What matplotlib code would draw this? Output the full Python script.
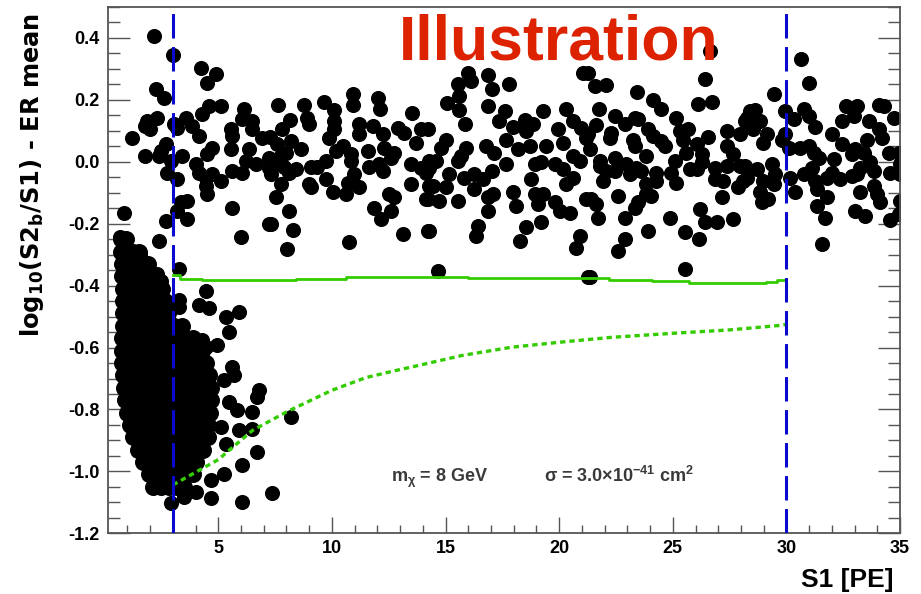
import matplotlib
matplotlib.use("Agg")
import matplotlib.pyplot as plt
from matplotlib.ticker import MultipleLocator, FormatStrFormatter

plt.rcParams.update({
    "font.family": ["Liberation Sans", "DejaVu Sans"],
    "font.weight": "bold",
    "axes.unicode_minus": False,
    "mathtext.fontset": "custom",
    "mathtext.rm": "Liberation Sans:bold",
    "mathtext.it": "Liberation Sans:bold",
    "mathtext.bf": "Liberation Sans:bold",
})

# band events (S1, log10(S2b/S1) - ER mean)
UPPER_X = [
    2.16, 3.01, 4.22, 4.88, 4.51, 2.27, 2.60, 4.59, 5.10, 4.29, 3.56, 6.13, 6.06, 6.50, 1.87, 2.31,
    1.79, 2.01, 3.04, 3.19, 3.85, 1.21, 4.15, 5.54, 5.62, 6.50, 6.94, 2.68, 2.46, 1.79, 2.38, 3.41,
    2.90, 4.73, 4.51, 5.54, 6.35, 4.00, 4.15, 4.44, 4.73, 5.10, 2.75, 3.19, 4.44, 4.51, 5.62, 6.06,
    6.64, 7.23, 6.20, 3.63, 3.34, 3.19, 3.63, 2.68, 0.84, 5.62, 7.23, 5.98, 2.38, 3.26,
    7.64, 8.78, 9.66, 10.94, 10.94, 12.05, 12.11, 10.10, 13.52, 8.14, 8.92, 9.00, 10.10, 10.10, 9.88, 7.82,
    7.26, 7.60, 8.19, 8.63, 11.20, 11.79, 12.23, 12.89, 13.18, 13.92, 13.70, 11.20, 10.47, 10.17, 10.83, 10.83,
    11.57, 12.30, 12.74, 12.60, 7.23, 7.67, 7.97, 7.38, 7.89, 8.41, 7.31, 8.11, 9.07, 9.36, 9.73, 11.64,
    12.08, 12.23, 13.48, 13.92, 14.29, 14.14, 7.75, 9.00, 9.07, 9.73, 10.03, 10.69, 10.61, 10.98, 11.20, 13.48,
    14.29, 7.53, 12.52, 12.74, 14.14, 11.86, 12.16, 12.60, 8.11, 7.31, 8.29, 8.04, 10.76, 13.11, 14.21,
    15.98, 16.86, 15.54, 16.12, 17.81, 17.05, 15.58, 15.05, 16.86, 15.61, 17.62, 15.87, 17.34, 17.99, 18.48, 19.28,
    20.31, 21.05, 14.21, 15.02, 14.80, 15.90, 15.68, 15.54, 14.58, 14.29, 16.79, 17.15, 17.67, 18.18, 18.55, 18.84,
    18.70, 19.43, 19.95, 20.17, 20.61, 20.97, 21.19, 20.90, 20.61, 18.92, 19.21, 19.80, 20.17, 17.67, 17.05, 15.17,
    15.83, 16.27, 16.64, 16.27, 15.02, 14.43, 14.21, 14.73, 15.54, 16.86, 17.08, 16.86, 17.96, 18.11, 18.77, 18.92,
    19.28, 19.06, 19.80, 20.02, 20.46, 20.31, 20.61, 21.19, 14.29, 16.34, 16.42, 18.26, 18.55, 19.21, 20.90, 20.75,
    14.65, 21.27,
    21.27, 21.56, 22.05, 23.43, 24.13, 24.46, 26.41, 26.12, 26.71, 26.63, 21.75, 22.44, 22.89, 23.33, 23.47, 21.64,
    22.30, 22.22, 21.27, 23.91, 24.13, 24.50, 24.65, 23.25, 23.33, 23.84, 25.16, 25.31, 25.68, 25.46, 25.60, 26.05,
    26.27, 26.56, 26.27, 25.09, 24.94, 25.16, 25.75, 26.05, 27.37, 27.96, 28.18, 28.40, 27.37, 27.66, 27.37, 26.85,
    26.85, 27.22, 27.96, 27.88, 28.25, 21.34, 21.78, 21.78, 22.08, 21.93, 22.44, 22.44, 22.96, 23.11, 23.62, 23.84,
    23.40, 24.28, 24.28, 23.84, 23.47, 23.33, 24.06, 22.59, 21.42, 21.64, 21.71, 22.89, 24.87, 26.19, 26.41, 26.93,
    27.66, 27.15, 23.91, 25.53, 26.16, 22.89, 22.59, 25.53, 21.34,
    30.65, 30.97, 29.47, 29.94, 30.75, 30.97, 30.31, 28.62, 28.25, 28.84, 28.54, 29.13, 28.99, 29.94, 29.79, 30.09,
    31.26, 30.60, 30.97, 31.19, 31.41, 32.62, 33.10, 32.95, 32.44, 32.00, 32.44, 33.61, 34.06, 34.28, 34.72, 34.06,
    34.20, 33.54, 33.03, 32.88, 33.39, 33.69, 33.25, 33.84, 33.10, 32.07, 32.00, 32.37, 31.78, 32.88, 34.50, 34.94,
    35.01, 34.57, 35.01, 31.12, 30.75, 31.26, 31.34, 28.18, 28.69, 28.10, 29.35, 29.50, 28.99, 29.43, 28.84, 28.91,
    29.21, 30.16, 30.38, 31.78, 31.34, 31.70, 33.03, 33.47, 33.25, 33.84, 33.98, 34.13, 35.01, 34.94, 34.57, 31.56,
]
UPPER_Y = [
    0.405, 0.346, 0.303, 0.282, 0.255, 0.234, 0.207, 0.180, 0.180, 0.153, 0.142, 0.169, 0.137, 0.132, 0.132, 0.142,
    0.115, 0.105, 0.121, 0.110, 0.115, 0.078, 0.083, 0.105, 0.083, 0.105, 0.078, 0.056, 0.035, 0.019, 0.019, 0.019,
    0.003, 0.046, 0.024, 0.040, 0.040, -0.008, -0.035, -0.051, -0.040, -0.062, -0.035, -0.056, -0.078, -0.105, -0.030, -0.035,
    -0.008, -0.019, 0.003, -0.126, -0.131, -0.158, -0.185, -0.191, -0.164, -0.148, -0.201, -0.244, -0.255, -0.346,
    0.183, 0.183, 0.193, 0.220, 0.185, 0.207, 0.172, 0.166, 0.157, 0.134, 0.142, 0.121, 0.132, 0.105, 0.078, 0.105,
    0.080, 0.056, 0.067, 0.040, 0.121, 0.115, 0.089, 0.110, 0.094, 0.105, 0.062, 0.089, 0.051, 0.035, 0.024, 0.003,
    0.035, 0.046, 0.030, 0.013, 0.013, 0.013, 0.029, -0.013, -0.018, -0.024, -0.040, -0.035, -0.018, -0.018, 0.003, -0.018,
    -0.008, -0.030, -0.008, -0.019, 0.003, -0.035, -0.072, -0.072, -0.083, -0.056, -0.099, -0.067, -0.105, -0.040, -0.083, -0.072,
    -0.078, -0.115, -0.105, -0.115, -0.121, -0.148, -0.185, -0.158, -0.160, -0.201, -0.221, -0.282, -0.258, -0.233, -0.223,
    0.287, 0.280, 0.250, 0.260, 0.252, 0.234, 0.212, 0.191, 0.180, 0.166, 0.164, 0.123, 0.132, 0.112, 0.134, 0.164,
    0.169, 0.287, 0.105, 0.072, 0.046, 0.046, 0.019, 0.003, 0.003, -0.019, 0.051, 0.029, 0.072, 0.040, 0.099, 0.121,
    0.051, 0.051, 0.105, 0.062, 0.132, 0.110, 0.078, 0.003, 0.019, -0.008, -0.002, -0.008, -0.024, -0.008, -0.030, -0.040,
    -0.051, -0.040, -0.056, -0.089, -0.083, -0.078, -0.121, -0.126, -0.126, -0.115, -0.105, -0.158, -0.099, -0.142, -0.056, -0.105,
    -0.105, -0.137, -0.131, -0.158, -0.164, -0.072, -0.051, -0.121, -0.223, -0.239, -0.207, -0.255, -0.212, -0.196, -0.239, -0.277,
    -0.352, -0.373,
    0.287, 0.244, 0.247, 0.226, 0.199, 0.169, 0.269, 0.187, 0.193, 0.359, 0.169, 0.148, 0.121, 0.142, 0.137, 0.119,
    0.094, 0.078, 0.089, 0.105, 0.083, 0.067, 0.051, 0.072, 0.051, 0.019, 0.142, 0.099, 0.105, 0.072, 0.029, 0.056,
    0.024, 0.080, -0.002, 0.003, -0.035, -0.067, -0.024, -0.024, 0.099, 0.089, 0.132, 0.164, 0.051, 0.024, -0.013, -0.019,
    -0.056, -0.062, -0.013, -0.083, -0.051, 0.040, 0.003, -0.013, -0.030, -0.062, 0.013, -0.030, -0.008, -0.040, -0.030, -0.072,
    -0.019, -0.035, -0.062, -0.105, -0.131, -0.148, -0.110, -0.110, -0.121, -0.137, -0.180, -0.180, -0.182, -0.153, -0.196, -0.196,
    -0.185, -0.115, -0.225, -0.228, -0.250, -0.250, -0.287, -0.346, -0.373,
    0.333, 0.255, 0.220, 0.164, 0.169, 0.148, 0.137, 0.166, 0.142, 0.132, 0.105, 0.089, 0.062, 0.089, 0.072, 0.046,
    0.112, 0.046, 0.051, 0.029, 0.013, 0.180, 0.180, 0.148, 0.132, 0.089, 0.056, 0.132, 0.185, 0.180, 0.142, 0.105,
    0.078, 0.072, 0.040, 0.024, 0.029, -0.002, -0.019, -0.030, -0.040, 0.008, -0.035, -0.056, -0.051, -0.046, 0.029, 0.029,
    -0.008, -0.035, -0.040, -0.019, -0.040, -0.062, -0.089, -0.013, -0.024, -0.062, -0.008, -0.040, -0.062, -0.072, -0.099, -0.131,
    -0.121, -0.051, -0.099, -0.115, -0.142, -0.180, -0.158, -0.175, -0.099, -0.078, -0.105, -0.131, -0.126, -0.169, -0.188, -0.266,
]

# scattered events around the low-S1 cluster
OUTER_X = [0.69, 1.57, 2.31, 2.46, 3.26, 4.44, 4.15, 4.59, 3.26, 5.32, 5.91, 5.47, 4.29, 4.95,
           4.44, 5.62, 5.69, 5.25, 6.79, 6.72, 5.47, 5.84, 6.50, 8.19, 5.10, 5.91, 6.50, 6.72,
           5.32, 6.06, 5.25, 4.66, 4.66, 6.06, 7.38, 4.00, 3.48, 2.90]
OUTER_Y = [-0.244, -0.298, -0.362, -0.384, -0.448, -0.416, -0.464, -0.472, -0.470, -0.502, -0.486,
           -0.550, -0.577, -0.593, -0.599, -0.663, -0.690, -0.706, -0.738, -0.760, -0.776, -0.803,
           -0.808, -0.824, -0.856, -0.867, -0.862, -0.937, -0.910, -0.980, -1.007, -1.028, -1.087,
           -1.098, -1.071, -1.066, -1.082, -1.103]

# dense cluster, one row of events per level
BLOB_ROW_Y = [-0.25, -0.29, -0.33, -0.37, -0.41, -0.45, -0.49, -0.53, -0.57, -0.61, -0.65,
              -0.69, -0.73, -0.77, -0.81, -0.85, -0.89, -0.93, -0.97, -1.01, -1.05]
BLOB_ROW_X = [
    [0.70, 0.95],
    [0.72, 0.90, 1.25, 1.50],
    [0.75, 1.10, 1.45, 1.80, 1.92],
    [0.78, 0.97, 1.32, 1.67, 2.02, 2.22],
    [0.80, 1.15, 1.50, 1.85, 2.20, 2.52],
    [0.80, 0.97, 1.32, 1.67, 2.02, 2.37, 2.65],
    [0.82, 1.20, 1.55, 1.90, 2.25, 2.60, 2.80],
    [0.80, 0.97, 1.32, 1.67, 2.02, 2.37, 2.72, 3.07, 3.40],
    [0.78, 1.10, 1.45, 1.80, 2.15, 2.50, 2.85, 3.20, 3.55, 3.90],
    [0.75, 0.97, 1.32, 1.67, 2.02, 2.37, 2.72, 3.07, 3.42, 3.77, 4.10, 4.30],
    [0.75, 1.10, 1.45, 1.80, 2.15, 2.50, 2.85, 3.20, 3.55, 3.90, 4.20, 4.45],
    [0.80, 0.97, 1.32, 1.67, 2.02, 2.37, 2.72, 3.07, 3.42, 3.77, 4.12, 4.47, 4.60],
    [0.85, 1.20, 1.55, 1.90, 2.25, 2.60, 2.95, 3.30, 3.65, 4.00, 4.35, 4.70],
    [0.90, 1.07, 1.42, 1.77, 2.12, 2.47, 2.82, 3.17, 3.52, 3.87, 4.22, 4.57, 4.70],
    [1.00, 1.35, 1.70, 2.05, 2.40, 2.75, 3.10, 3.45, 3.80, 4.15, 4.45, 4.65],
    [1.10, 1.27, 1.62, 1.97, 2.32, 2.67, 3.02, 3.37, 3.72, 4.07, 4.42, 4.55],
    [1.25, 1.60, 1.95, 2.30, 2.65, 3.00, 3.35, 3.70, 4.05, 4.40, 4.55],
    [1.45, 1.62, 1.97, 2.32, 2.67, 3.02, 3.37, 3.72, 4.07, 4.35],
    [1.70, 2.05, 2.40, 2.75, 3.10, 3.45, 3.80, 4.00],
    [1.95, 2.12, 2.47, 2.82, 3.17, 3.52, 3.87],
    [2.15, 2.50, 2.85, 3.20, 3.50],
]

# analysis window in S1
S1_WINDOW = [3, 30]

# solid green contour (step-wise)
SOLID_X = [3.0, 3.3, 4.3, 8.4, 10.6, 16.0, 22.2, 24.1, 25.7, 29.1, 29.6, 30.0]
SOLID_Y = [-0.366, -0.377, -0.381, -0.378, -0.373, -0.376, -0.381, -0.386, -0.391, -0.388, -0.383, -0.383]

# dotted green contour
DOT_X = [3.0, 5.0, 6.5, 8.0, 10.0, 11.5, 12.7, 13.8, 15.7, 17.9, 20.0, 22.3, 25.0, 27.5, 29.8, 30.0]
DOT_Y = [-1.044, -0.962, -0.868, -0.808, -0.738, -0.697, -0.676, -0.658, -0.626, -0.599,
         -0.583, -0.567, -0.554, -0.543, -0.528, -0.525]

GREEN = "#33cc00"
BLUE = "#0a0acc"
FRAME = "#555555"

fig = plt.figure(figsize=(9.21, 5.94), dpi=100)
ax = fig.add_axes([0.1173, 0.1022, 0.860, 0.886])

bx = [x for row in BLOB_ROW_X for x in row]
by = [y for row, y in zip(BLOB_ROW_X, BLOB_ROW_Y) for _ in row]
# the cluster is packed tight enough that its circles merge into one mass
ax.scatter(bx, by, s=150, c="black", linewidths=0, zorder=2)
for xs, ys in [(OUTER_X, OUTER_Y), (UPPER_X, UPPER_Y)]:
    ax.scatter(xs, ys, s=118, c="black", linewidths=0, zorder=2)

ax.plot(SOLID_X, SOLID_Y, color=GREEN, lw=2.0, drawstyle="steps-post", zorder=3)
ax.plot(DOT_X, DOT_Y, color=GREEN, lw=2.4, ls=(0, (1.6, 1.2)), zorder=3)
for xv in S1_WINDOW:
    ax.axvline(xv, color=BLUE, lw=2.2, ls=(0, (8.0, 2.8)), zorder=4)

ax.text(20.0, 0.331, "Illustration", color="#dd2200", fontsize=45,
        fontweight="bold", ha="center", va="baseline", zorder=5)
ax.text(12.58, -1.035, r"$\mathrm{m}_{\chi}$ = 8 GeV", color="#3a3a3a",
        fontsize=13, ha="left", va="baseline")
ax.text(19.34, -1.035, r"$\sigma$ = 3.0$\times$10$^{-41}$ cm$^{2}$", color="#3a3a3a",
        fontsize=13, ha="left", va="baseline")

ax.set_xlim(0.15, 35)
ax.set_ylim(-1.2, 0.5)
ax.xaxis.set_major_locator(MultipleLocator(5))
ax.xaxis.set_minor_locator(MultipleLocator(1))
ax.yaxis.set_major_locator(MultipleLocator(0.2))
ax.yaxis.set_minor_locator(MultipleLocator(0.05))
ax.yaxis.set_major_formatter(FormatStrFormatter("%.1f"))

for sp in ax.spines.values():
    sp.set_color(FRAME)
    sp.set_linewidth(1.3)
ax.tick_params(axis="y", which="both", direction="in", left=True, right=True,
               color=FRAME, width=1.0, labelsize=13, pad=6)
ax.tick_params(axis="y", which="major", length=16)
ax.tick_params(axis="y", which="minor", length=8.5)
ax.tick_params(axis="x", which="both", direction="in", bottom=True, top=False,
               color=FRAME, width=1.0, labelsize=13, pad=5)
ax.tick_params(axis="x", which="major", length=11.5)
ax.tick_params(axis="x", which="minor", length=6)
for lab in ax.get_xticklabels() + ax.get_yticklabels():
    lab.set_fontweight("bold")

fig.text(893 / 921, 1 - 587 / 594, "S1 [PE]", fontsize=19, fontweight="bold",
         ha="right", va="baseline")
fig.text(32 / 921, 1 - 175 / 594, r"log$_{\mathbf{10}}$(S2$_{\mathbf{b}}$/S1) - ER mean",
         fontsize=17.4, fontweight="bold", family="DejaVu Sans", math_fontfamily="dejavusans",
         rotation=90, ha="center", va="center")

fig.savefig("out.png", dpi=100)
